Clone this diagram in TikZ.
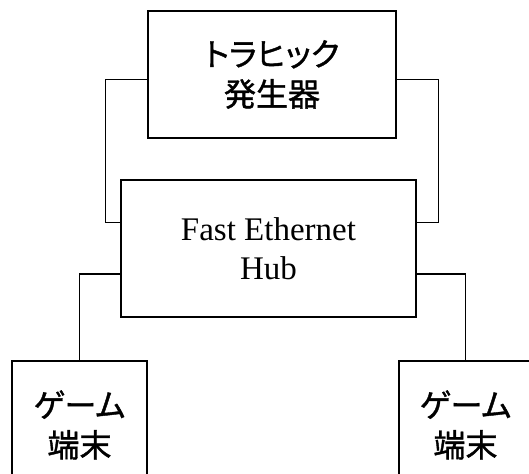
\documentclass[tikz,border=0pt]{standalone}
\usepackage{fontspec}
\setmainfont{Liberation Serif}
\newfontfamily\cjk[RawFeature=+palt,FakeBold=1.2]{Noto Sans CJK JP}
\usetikzlibrary{positioning}
\tikzstyle{unit} = [rectangle, draw=black, line width=1.1pt, align=center, inner sep=0pt]
\tikzstyle{wire} = [line width=1.1pt]

\begin{document}
\begin{tikzpicture}[x=1pt, y=1pt,
		jp/.style = {font=\cjk\fontsize{32}{40}\selectfont},
		en/.style = {font=\fontsize{33}{39}\selectfont}]

		\useasboundingbox (0,0) rectangle (529,473);
		\clip (0,0) rectangle (529,473);

		% Traffic generator
		\node[unit,jp,minimum width=248pt,minimum height=127pt] (gen) at (272,398.5) {トラヒック\\発生器};

		% Hub
		\node[unit,en,minimum width=295pt,minimum height=137pt] (hub) at (268.5,224.5) {Fast Ethernet\\Hub};

		% Game terminals
		\node[unit,jp,minimum width=135pt,minimum height=128pt] (gameL) at (79.5,48) {ゲーム\\端末};
		\node[unit,jp,minimum width=133pt,minimum height=128pt] (gameR) at (465.5,48) {ゲーム\\端末};

		% Generator to hub
		\draw[wire] ([yshift=-5pt]gen.west) -- ++(-42,0) |- ([yshift=26pt]hub.west);
		\draw[wire] ([yshift=-5pt]gen.east) -- ++(42,0) |- ([yshift=26pt]hub.east);

		% Hub to terminals
		\draw[wire] ([yshift=-25.5pt]hub.west) -| (gameL.north);
		\draw[wire] ([yshift=-25.5pt]hub.east) -| (gameR.north);
\end{tikzpicture}
\end{document}
